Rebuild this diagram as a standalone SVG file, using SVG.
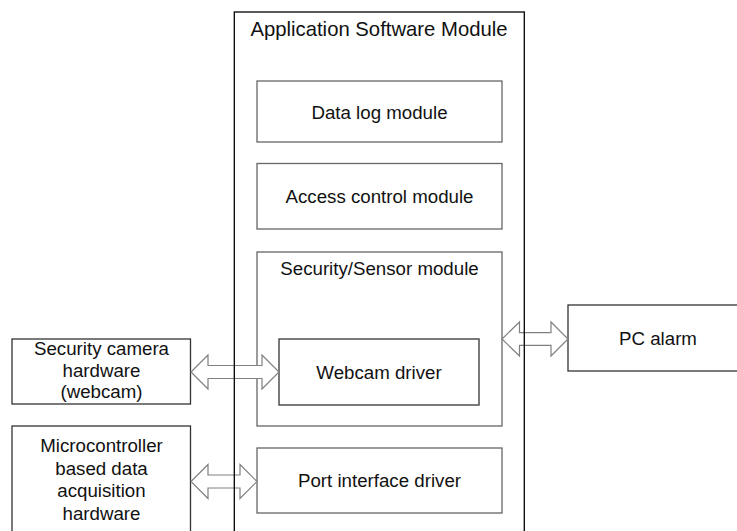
<svg xmlns="http://www.w3.org/2000/svg" width="737" height="531" viewBox="0 0 737 531">
  <style>
    .bg { fill: #ffffff; }
    .box { fill: #ffffff; stroke: #333333; stroke-width: 1.3; }
    .inner { fill: #ffffff; stroke: #666666; stroke-width: 1.3; }
    .frame { fill: none; stroke: #000000; stroke-width: 1.3; }
    .arrow { fill: #ffffff; stroke: #808080; stroke-width: 1.2; stroke-linejoin: miter; }
    text { font-family: "Liberation Sans", Arial, sans-serif; font-size: 18.7px; fill: #111111; text-anchor: middle; }
    .title { font-size: 20.3px; }
  </style>
  <rect class="bg" x="0" y="0" width="737" height="531"/>

  <!-- Inner modules of the application software -->
  <g id="data-log">
    <rect class="inner" x="257" y="81" width="245" height="61"/>
    <text x="379.5" y="118.5">Data log module</text>
  </g>
  <g id="access-control">
    <rect class="inner" x="257" y="163.5" width="245" height="65.5"/>
    <text x="379.5" y="202.5">Access control module</text>
  </g>
  <g id="security-sensor">
    <rect class="inner" x="257" y="252" width="245" height="174"/>
    <text x="379.5" y="274.5">Security/Sensor module</text>
  </g>
  <g id="webcam-driver">
    <rect class="box" x="279" y="339" width="200" height="66"/>
    <text x="379" y="378.5">Webcam driver</text>
  </g>
  <g id="port-interface">
    <rect class="inner" x="257" y="448" width="245" height="65"/>
    <text x="379.5" y="487">Port interface driver</text>
  </g>

  <!-- External hardware -->
  <g id="camera-hardware">
    <rect class="box" x="12" y="339" width="178.5" height="65"/>
    <text x="101.5" y="355">Security camera</text>
    <text x="101.5" y="376.5">hardware</text>
    <text x="101.5" y="397.5">(webcam)</text>
  </g>
  <g id="daq-hardware">
    <rect class="box" x="12" y="426" width="178.5" height="120"/>
    <text x="101.5" y="452.3">Microcontroller</text>
    <text x="101.5" y="474.8">based data</text>
    <text x="101.5" y="497.3">acquisition</text>
    <text x="101.5" y="519.8">hardware</text>
  </g>
  <g id="pc-alarm">
    <rect class="box" x="568" y="305" width="180" height="66" stroke="#222222"/>
    <text x="658" y="344.5">PC alarm</text>
  </g>

  <!-- Bidirectional links -->
  <g id="connectors">
    <polygon class="arrow" points="191,372 208,355 208,365.5 262,365.5 262,355 279,372 262,389 262,378.5 208,378.5 208,389"/>
    <polygon class="arrow" points="191,481.5 208,464.5 208,475 240,475 240,464.5 257,481.5 240,498.5 240,488 208,488 208,498.5"/>
    <polygon class="arrow" points="502,339 519.5,322 519.5,332.7 551,332.7 551,322 568,339 551,356 551,345.3 519.5,345.3 519.5,356"/>
  </g>

  <!-- Application software container (drawn last so its edges cross the links) -->
  <g id="application-software">
    <rect class="frame" x="234.3" y="12" width="290" height="540"/>
    <text class="title" x="379" y="36">Application Software Module</text>
  </g>
</svg>
